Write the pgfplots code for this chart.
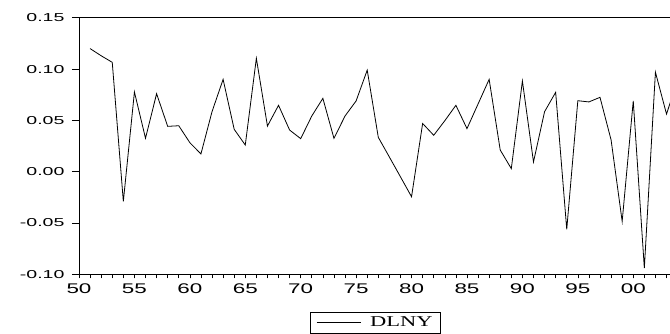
\documentclass[border=0pt]{standalone}
\usepackage{fontspec}
\usepackage{pgfplots}
\pgfplotsset{compat=1.18}
\newfontfamily\tickfont[FakeStretch=1.7]{Liberation Sans}
\newfontfamily\xtickfont[FakeStretch=1.6]{Liberation Sans}
\newfontfamily\legfont[FakeStretch=1.5]{Liberation Serif}

\pgfplotstableread{
year val
51 0.120
52 0.113
53 0.1066
54 -0.029
55 0.0777
56 0.0326
57 0.076
58 0.0442
59 0.0448
60 0.0283
61 0.0173
62 0.0585
63 0.090
64 0.0413
65 0.026
66 0.1105
67 0.0445
68 0.0647
69 0.0406
70 0.0322
71 0.0543
72 0.0715
73 0.0325
74 0.0543
75 0.069
76 0.099
77 0.0335
78 0.0143
79 -0.005
80 -0.0244
81 0.047
82 0.0355
83 0.0497
84 0.0647
85 0.042
86 0.066
87 0.090
88 0.0211
89 0.003
90 0.0884
91 0.0095
92 0.0585
93 0.0774
94 -0.0562
95 0.0692
96 0.068
97 0.0725
98 0.031
99 -0.0484
100 0.069
101 -0.094
102 0.097
103 0.0562
104 0.089
}\dlny

\begin{document}
\begin{tikzpicture}
\pgfplotsset{
  common/.style={scale only axis, width=598.6pt, height=256.5pt,
    xmin=50, xmax=104, ymin=-0.10, ymax=0.15,
    at={(0pt,0pt)}, anchor=south west,
    axis line style={black, line width=0.8pt},
    tick style={black, line width=0.6pt},
    tick align=outside}
}
\begin{axis}[common,
  xtick=\empty,
  ytick={-0.10,-0.05,0,0.05,0.10,0.15},
  yticklabels={-0.10,-0.05,0.00,0.05,0.10,0.15},
  ytick pos=left,
  major tick length=7pt,
  yticklabel style={font=\tickfont\fontsize{11.5}{13}\selectfont, xshift=-4pt},
  legend style={at={(axis description cs:0.3859,-0.1458)}, anchor=north west,
    draw=black, line width=0.6pt, inner xsep=6pt, inner ysep=3pt,
    font=\legfont\fontsize{15}{17}\selectfont},
  legend image code/.code={\draw[#1] (0pt,0pt) -- (44pt,0pt);},
]
\addplot[black, line width=0.8pt] table[x=year, y=val] {\dlny};
\addlegendentry{\hspace{7pt}DLNY}
\end{axis}
\begin{axis}[common,
  axis y line=none, axis x line*=bottom,
  xtick={50,55,...,100},
  xticklabels={50,55,60,65,70,75,80,85,90,95,00},
  minor xtick={51,...,104},
  major tick length=4pt, minor tick length=4pt,
  xticklabel style={font=\xtickfont\fontsize{14}{16}\selectfont, yshift=-2pt},
]
\end{axis}
\pgfresetboundingbox
\useasboundingbox (-79pt,-59.7pt) rectangle (591pt,274.3pt);
\end{tikzpicture}
\end{document}
